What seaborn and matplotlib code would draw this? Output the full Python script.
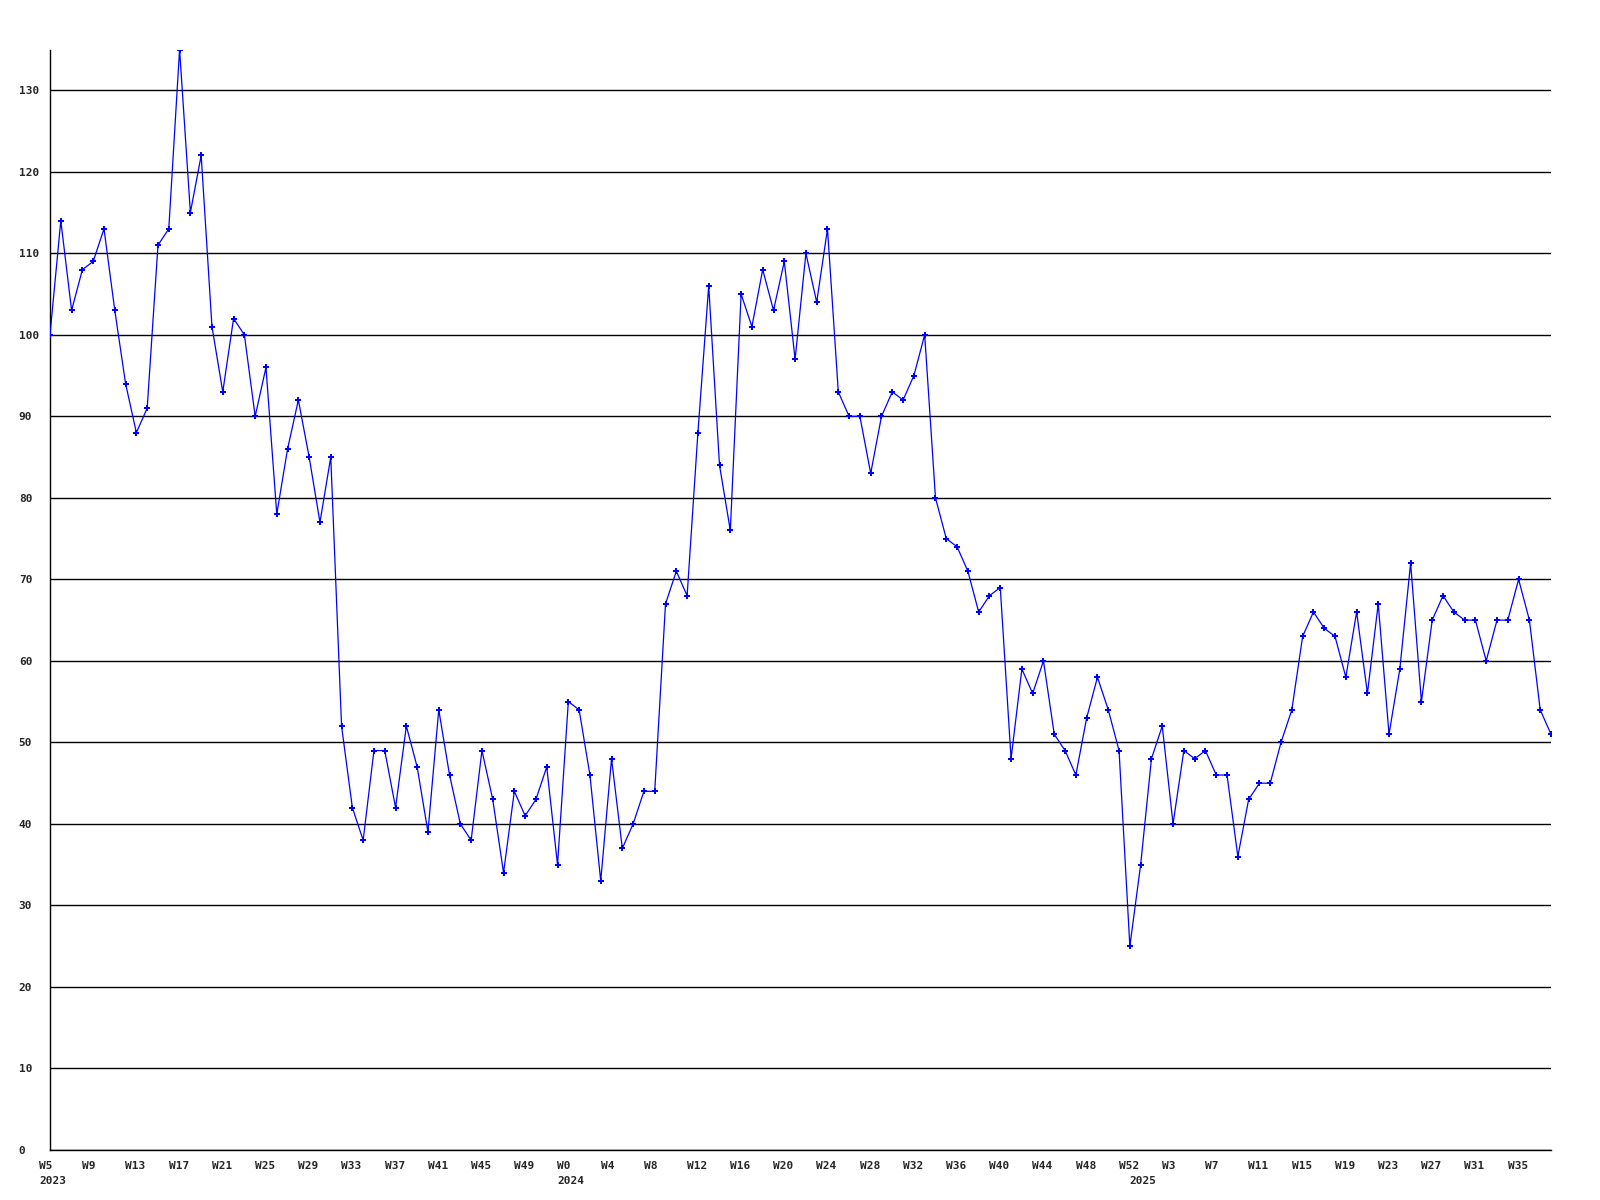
import numpy as np
import pandas as pd
import matplotlib
matplotlib.use('Agg')
import matplotlib.pyplot as plt
import seaborn as sns

# weekly values
values_2023 = [100, 114, 103, 108, 109, 113, 103, 94, 88, 91, 111, 113, 135, 115, 122, 101,
               93, 102, 100, 90, 96, 78, 86, 92, 85, 77, 85, 52, 42, 38, 49, 49, 42, 52, 47, 39,
               54, 46, 40, 38, 49, 43, 34, 44, 41, 43, 47, 35]          # W5..W52
values_2024 = [55, 54, 46, 33, 48, 37, 40, 44, 44, 67, 71, 68, 88, 106, 84, 76, 105, 101, 108,
               103, 109, 97, 110, 104, 113, 93, 90, 90, 83, 90, 93, 92, 95, 100, 80, 75, 74, 71,
               66, 68, 69, 48, 59, 56, 60, 51, 49, 46, 53, 58, 54, 49, 25]  # W0..W52
values_2025 = [35, 48, 52, 40, 49, 48, 49, 46, 46, 36, 43, 45, 45, 50, 54, 63, 66, 64, 63, 58,
               66, 56, 67, 51, 59, 72, 55, 65, 68, 66, 65, 65, 60, 65, 65, 70, 65, 54, 51]  # W0..W38

tick_labels = ['W5', 'W9', 'W13', 'W17', 'W21', 'W25', 'W29', 'W33', 'W37', 'W41', 'W45', 'W49',
               'W0', 'W4', 'W8', 'W12', 'W16', 'W20', 'W24', 'W28', 'W32', 'W36', 'W40', 'W44',
               'W48', 'W52', 'W3', 'W7', 'W11', 'W15', 'W19', 'W23', 'W27', 'W31', 'W35']
years = ['2023', '2024', '2025']

values = values_2023 + values_2024 + values_2025
df = pd.DataFrame({'week': np.arange(len(values)), 'value': values})
year_start = [0, len(values_2023), len(values_2023) + len(values_2024)]

sns.set_style('white')
plt.rcParams['font.family'] = ['DejaVu Sans Mono', 'DejaVu Sans']
plt.rcParams['font.weight'] = 'bold'

fig = plt.figure(figsize=(16, 12), dpi=100)
ax = fig.add_axes([50 / 1600, 50 / 1200, 1501 / 1600, 1100.5 / 1200])

sns.lineplot(data=df, x='week', y='value', ax=ax, color='#0000ff', lw=0.9,
             marker='P', markersize=4, markeredgecolor='#0000ff', markeredgewidth=0,
             zorder=3)

ax.set_xlim(0, len(values) - 1)
ax.set_ylim(0, 135)
ax.set_yticks(range(0, 131, 10))
ax.yaxis.grid(True, color='black', lw=1)
ax.xaxis.grid(False)
ax.set_axisbelow(True)

for s in ['top', 'right']:
    ax.spines[s].set_visible(False)
for s in ['left', 'bottom']:
    ax.spines[s].set_color('black')
    ax.spines[s].set_linewidth(1)

ax.set_xticks(range(0, len(values), 4))
ax.set_xticklabels(tick_labels)
ax.tick_params(axis='both', length=0, labelsize=8)
ax.tick_params(axis='y', pad=22.5)
ax.tick_params(axis='x', pad=8)
for lab in ax.get_yticklabels():
    lab.set_horizontalalignment('left')
    lab.set_fontweight('bold')
offset = matplotlib.transforms.ScaledTranslation(-11 / 100, 0, fig.dpi_scale_trans)
for lab in ax.get_xticklabels():
    lab.set_horizontalalignment('left')
    lab.set_fontweight('bold')
    lab.set_transform(lab.get_transform() + offset)

for x0, yr in zip(year_start, years):
    ax.annotate(yr, xy=(x0, 0), xytext=(-11, -26), textcoords='offset pixels',
                ha='left', va='top', fontsize=8, fontweight='bold', annotation_clip=False)

ax.set_xlabel('')
ax.set_ylabel('')

fig.savefig('out.png', dpi=100)
